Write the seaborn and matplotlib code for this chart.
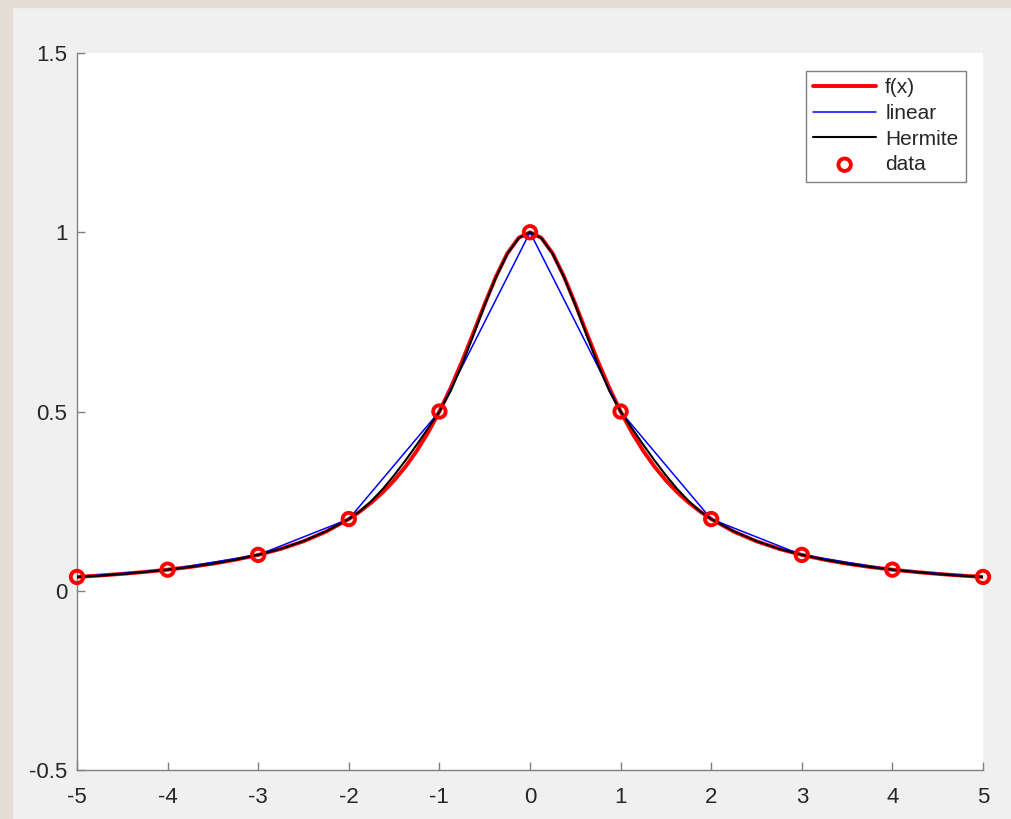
import matplotlib
matplotlib.use("Agg")
import matplotlib.pyplot as plt
from matplotlib.patches import Rectangle
import seaborn as sns
import pandas as pd

# ---- data ----
x_data = [-5, -4, -3, -2, -1, 0, 1, 2, 3, 4, 5]
y_data = [0.0385, 0.0588, 0.1, 0.2, 0.5, 1.0, 0.5, 0.2, 0.1, 0.0588, 0.0385]

x_fine = [-5, -4.75, -4.5, -4.25, -4, -3.75, -3.5, -3.25, -3, -2.75, -2.5, -2.25,
          -2, -1.875, -1.75, -1.625, -1.5, -1.375, -1.25, -1.125,
          -1, -0.875, -0.75, -0.625, -0.5, -0.375, -0.25, -0.125,
          0, 0.125, 0.25, 0.375, 0.5, 0.625, 0.75, 0.875,
          1, 1.125, 1.25, 1.375, 1.5, 1.625, 1.75, 1.875,
          2, 2.25, 2.5, 2.75, 3, 3.25, 3.5, 3.75, 4, 4.25, 4.5, 4.75, 5]
f_vals = [0.0385, 0.0425, 0.0471, 0.0525, 0.0588, 0.0664, 0.0755, 0.0865, 0.1,
          0.1168, 0.1379, 0.1649,
          0.2, 0.2215, 0.2462, 0.2747, 0.3077, 0.3459, 0.3902, 0.4414,
          0.5, 0.5664, 0.64, 0.7191, 0.8, 0.8767, 0.9412, 0.9846,
          1.0, 0.9846, 0.9412, 0.8767, 0.8, 0.7191, 0.64, 0.5664,
          0.5, 0.4414, 0.3902, 0.3459, 0.3077, 0.2747, 0.2462, 0.2215,
          0.2, 0.1649, 0.1379, 0.1168, 0.1, 0.0865, 0.0755, 0.0664, 0.0588,
          0.0525, 0.0471, 0.0425, 0.0385]
hermite_vals = [0.0385, 0.0418, 0.0465, 0.0523, 0.0588, 0.0663, 0.0755, 0.0866,
                0.1, 0.1168, 0.1386, 0.1660,
                0.2, 0.2221, 0.2504, 0.2839, 0.3219, 0.3633, 0.4074, 0.4533,
                0.5, 0.5574, 0.6309, 0.7131, 0.7969, 0.8748, 0.9395, 0.9836,
                1.0, 0.9836, 0.9395, 0.8748, 0.7969, 0.7131, 0.6309, 0.5574,
                0.5, 0.4533, 0.4074, 0.3633, 0.3219, 0.2839, 0.2504, 0.2221,
                0.2, 0.1660, 0.1386, 0.1168, 0.1, 0.0866, 0.0755, 0.0663,
                0.0588, 0.0523, 0.0465, 0.0418, 0.0385]

x_ticks = [-5, -4, -3, -2, -1, 0, 1, 2, 3, 4, 5]
y_ticks = [-0.5, 0, 0.5, 1, 1.5]
y_tick_labels = ["-0.5", "0", "0.5", "1", "1.5"]
legend_labels = ["f(x)", "linear", "Hermite", "data"]

# ---- style ----
sns.set_style("ticks")
plt.rcParams["font.family"] = ["Liberation Sans", "DejaVu Sans"]
plt.rcParams["axes.unicode_minus"] = False

fig = plt.figure(figsize=(10.12, 8.19), dpi=100, facecolor="#f0f0f0")
ax = fig.add_axes([77 / 1012, 1 - 770 / 819, 906 / 1012, 717 / 819])
ax.set_facecolor("white")

# screenshot border
fig.patches.append(Rectangle((0, 0), 12 / 1012, 1, transform=fig.transFigure,
                             color="#e4ddd3", zorder=0))
fig.patches.append(Rectangle((0, 1 - 7 / 819), 1, 7 / 819, transform=fig.transFigure,
                             color="#e4ddd3", zorder=0))

df_f = pd.DataFrame({"x": x_fine, "y": f_vals})
df_h = pd.DataFrame({"x": x_fine, "y": hermite_vals})
df_d = pd.DataFrame({"x": x_data, "y": y_data})

sns.lineplot(data=df_f, x="x", y="y", ax=ax, color="#ff0000", linewidth=2.8,
             label=legend_labels[0], sort=False, zorder=3)
sns.lineplot(data=df_d, x="x", y="y", ax=ax, color="#0000ff", linewidth=1.1,
             label=legend_labels[1], sort=False, zorder=4)
sns.lineplot(data=df_h, x="x", y="y", ax=ax, color="black", linewidth=1.5,
             label=legend_labels[2], sort=False, zorder=5)
sns.scatterplot(data=df_d, x="x", y="y", ax=ax, marker="o", s=80,
                facecolor="none", edgecolor="#ff0000", linewidth=2.8,
                label=legend_labels[3], zorder=6, clip_on=False)

ax.set_xlim(-5, 5)
ax.set_ylim(-0.5, 1.5)
ax.set_xticks(x_ticks)
ax.set_xticklabels([str(t) for t in x_ticks])
ax.set_yticks(y_ticks)
ax.set_yticklabels(y_tick_labels)
ax.set_xlabel("")
ax.set_ylabel("")

for side in ["top", "right"]:
    ax.spines[side].set_visible(False)
for side in ["left", "bottom"]:
    ax.spines[side].set_color("#808080")
    ax.spines[side].set_linewidth(1.0)
ax.tick_params(direction="in", length=6, width=1.0, color="#808080",
               labelsize=16, labelcolor="#262626")
ax.tick_params(axis="x", pad=12)
ax.tick_params(axis="y", pad=7)

leg = ax.legend(loc="upper right", bbox_to_anchor=(0.981, 0.975),
                borderaxespad=0, fontsize=15, frameon=True, fancybox=False,
                framealpha=1, edgecolor="#808080", handlelength=3.0,
                handletextpad=0.45, labelspacing=0.32, borderpad=0.35)
leg.get_frame().set_linewidth(1.0)

fig.savefig("out.png", dpi=100, facecolor=fig.get_facecolor())
